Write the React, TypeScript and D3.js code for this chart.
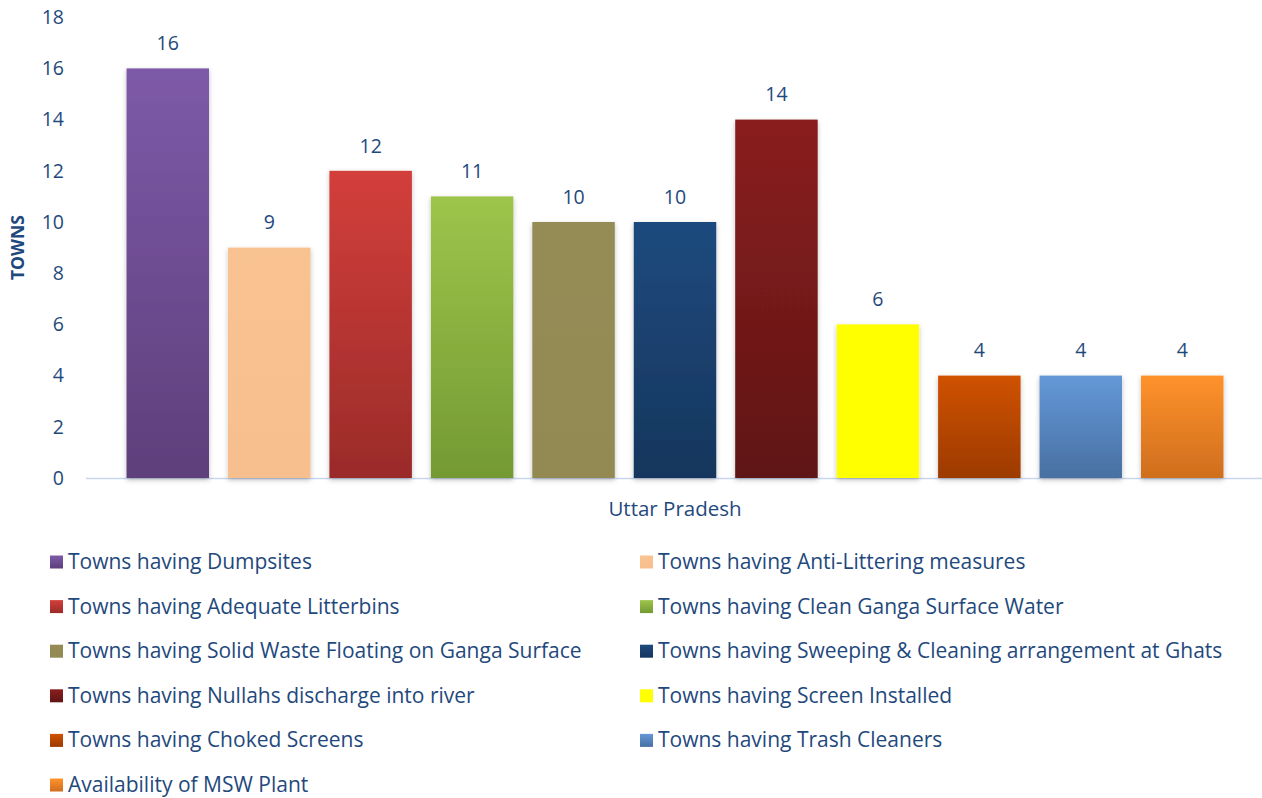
import React from "react";
import * as d3 from "d3";

const seriesNames = [
  "Towns having Dumpsites",
  "Towns having Anti-Littering measures",
  "Towns having Adequate Litterbins",
  "Towns having Clean Ganga Surface Water",
  "Towns having Solid Waste Floating on Ganga Surface",
  "Towns having Sweeping & Cleaning arrangement at Ghats",
  "Towns having Nullahs discharge into river",
  "Towns having Screen Installed",
  "Towns having Choked Screens",
  "Towns having Trash Cleaners",
  "Availability of MSW Plant",
];
const seriesValues = [16, 9, 12, 11, 10, 10, 14, 6, 4, 4, 4];
const colorTop = ["#7D5AA8", "#F9C291", "#D33F3B", "#9DC54B", "#958B55", "#1F4A7E", "#8A1F1F", "#FFFF00", "#D05202", "#6498D8", "#FF922B"];
const colorBottom = ["#5E3F7B", "#F7BF8E", "#9A2B29", "#739A33", "#938952", "#16365D", "#5F1414", "#FFFF00", "#9C3A00", "#4870A2", "#CF6E1E"];
const yTicks = [0, 2, 4, 6, 8, 10, 12, 14, 16, 18];
const category = "Uttar Pradesh";
const yTitle = "TOWNS";

const W = 1262;
const H = 798;
const TEXT = "#1F497D";
const FONT = "'Open Sans', sans-serif";

export default function App() {
  const x0 = 86, x1 = 1264, yTop = 17.2, yBot = 478;
  const y = d3.scaleLinear().domain([0, 18]).range([yBot, yTop]);
  const x = d3.scaleBand<number>()
    .domain(d3.range(seriesNames.length))
    .range([x0, x1])
    .paddingInner(0.187)
    .paddingOuter(0.3995);
  const bw = x.bandwidth();

  return (
    <svg width={W} height={H} style={{ position: "absolute", left: 0, top: 0, background: "#fff" }} fontFamily={FONT}>
      <defs>
        {seriesNames.map((_, i) => (
          <linearGradient key={i} id={`g${i}`} x1="0" y1="0" x2="0" y2="1">
            <stop offset="0" stopColor={colorTop[i]} />
            <stop offset="1" stopColor={colorBottom[i]} />
          </linearGradient>
        ))}
        <filter id="sh" x="-20%" y="-5%" width="140%" height="115%">
          <feDropShadow dx="0" dy="2" stdDeviation="2.5" floodColor="#000" floodOpacity="0.25" />
        </filter>
      </defs>

      {yTicks.map((t) => (
        <text key={t} x={64} y={y(t)} dy="0.35em" textAnchor="end" fontSize={19.5} fill={TEXT}>
          {t}
        </text>
      ))}

      <line x1={x0} x2={x1} y1={yBot + 0.5} y2={yBot + 0.5} stroke="#C9D7EE" strokeWidth={1.5} />

      {seriesValues.map((v, i) => (
        <g key={i}>
          <rect
            x={x(i)!}
            y={y(v)}
            width={bw}
            height={yBot - y(v)}
            fill={`url(#g${i})`}
            filter="url(#sh)"
          />
          <text x={x(i)! + bw / 2} y={y(v) - 25} dy="0.35em" textAnchor="middle" fontSize={19.5} fill={TEXT}>
            {v}
          </text>
        </g>
      ))}

      <text x={(x0 + x1) / 2} y={509} dy="0.35em" textAnchor="middle" fontSize={20.5} fill={TEXT}>
        {category}
      </text>

      <text
        transform={`translate(18, ${(yTop + yBot) / 2}) rotate(-90)`}
        textAnchor="middle"
        dy="0.35em"
        fontSize={17.5}
        fontWeight="bold"
        fill={TEXT}
      >
        {yTitle}
      </text>

      {seriesNames.map((name, i) => {
        const col = i % 2;
        const row = Math.floor(i / 2);
        const lx = col === 0 ? 50 : 640;
        const ly = 562 + row * 44.6;
        return (
          <g key={name}>
            <rect x={lx} y={ly - 6.5} width={13} height={13} fill={`url(#g${i})`} />
            <text x={lx + 18} y={ly} dy="0.33em" fontSize={21} fill={TEXT}>
              {name}
            </text>
          </g>
        );
      })}
    </svg>
  );
}
